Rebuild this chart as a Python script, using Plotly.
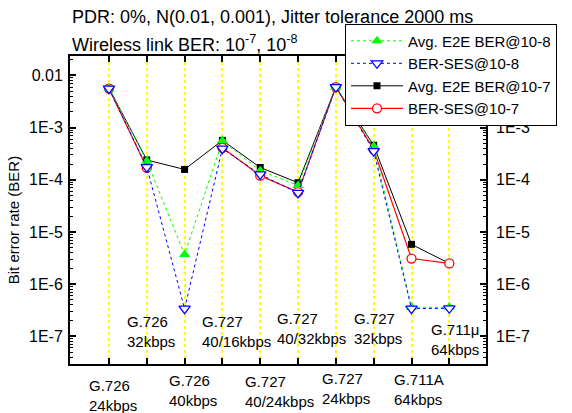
import plotly.graph_objects as go

# ---------------- data ----------------
categories = ["G.726<br>24kbps", "G.726<br>32kbps", "G.726<br>40kbps", "G.727<br>40/16kbps",
              "G.727<br>40/24kbps", "G.727<br>40/32kbps", "G.727<br>24kbps", "G.727<br>32kbps",
              "G.711A<br>64kbps", "G.711μ<br>64kbps"]
series_names = ["Avg. E2E BER@10-8", "BER-SES@10-8", "Avg. E2E BER@10-7", "BER-SES@10-7"]
avg_e2e_1e8 = [5.6e-3, 2.3e-4, 3.7e-6, 5.6e-4, 1.5e-4, 7.8e-5, 6.0e-3, 4.4e-4, 3.6e-7, 3.6e-7]
ber_ses_1e8 = [5.6e-3, 1.75e-4, 3.4e-7, 3.95e-4, 1.27e-4, 5.6e-5, 6.0e-3, 3.55e-4, 3.4e-7, 3.45e-7]
avg_e2e_1e7 = [5.7e-3, 2.4e-4, 1.58e-4, 5.7e-4, 1.72e-4, 8.8e-5, 6.0e-3, 4.6e-4, 5.8e-6, 2.5e-6]
ber_ses_1e7 = [5.6e-3, 1.7e-4, None, 4.1e-4, 1.2e-4, 5.8e-5, 6.0e-3, 3.8e-4, 3.1e-6, 2.5e-6]
y_tickvals = [1e-2, 1e-3, 1e-4, 1e-5, 1e-6, 1e-7]
y_ticktext = ["0.01", "1E-3", "1E-4", "1E-5", "1E-6", "1E-7"]
# right-hand labels (the 0.01 label sits under the legend in the original)
y2_tickvals = [1e-3, 1e-4, 1e-5, 1e-6, 1e-7]
y2_ticktext = ["1E-3", "1E-4", "1E-5", "1E-6", "1E-7"]

# ---------------- layout geometry (pixels) ----------------
W, H = 572, 413
PL, PR, PT, PB = 70, 486, 55.5, 364
Y_RANGE = [-7.53, -1.627]
X_RANGE = [-1.03, 9.97]

def py(ypx):
    return (PB - ypx) / (PB - PT)

def px(xpx):
    return (xpx - PL) / (PR - PL)

xs = list(range(len(categories)))
FONT = "Liberation Sans, Arial, sans-serif"

fig = go.Figure()
fig.add_trace(go.Scatter(x=xs, y=avg_e2e_1e7, name=series_names[2], mode="lines+markers",
                         line=dict(color="black", width=1),
                         marker=dict(symbol="square", size=7, color="black"), legendrank=3))
fig.add_trace(go.Scatter(x=xs, y=ber_ses_1e7, name=series_names[3], mode="lines+markers",
                         connectgaps=False,
                         line=dict(color="red", width=1.2),
                         marker=dict(symbol="circle", size=9, color="white",
                                     line=dict(color="red", width=1.3)), legendrank=4))
fig.add_trace(go.Scatter(x=xs, y=avg_e2e_1e8, name=series_names[0], mode="lines+markers",
                         line=dict(color="#00FF00", width=1, dash="dot"),
                         marker=dict(symbol="triangle-up", size=10, color="#00FF00"), legendrank=1))
fig.add_trace(go.Scatter(x=xs, y=ber_ses_1e8, name=series_names[1], mode="lines+markers",
                         line=dict(color="blue", width=1, dash="dot"),
                         marker=dict(symbol="triangle-down", size=10, color="white",
                                     line=dict(color="blue", width=1.3)), legendrank=2))
fig.add_trace(go.Scatter(x=[], y=[], yaxis="y2", showlegend=False, hoverinfo="skip"))

minor_vals = [k * 10.0 ** e for e in range(-8, -1) for k in range(2, 10)]

annotations = []
# category labels: even below the axis, odd inside the plot
label_dx = [-22, -22, -18, -22, -17, -23, -16, -22, -20, -20]
label_cy = [395.5, 331, 391, 331, 392, 328.5, 388.5, 328.5, 390, 339.5]
for i, lab in enumerate(categories):
    annotations.append(dict(x=i, y=py(label_cy[i]), xref="x", yref="paper", text=lab,
                            xanchor="left", yanchor="middle", align="left", xshift=label_dx[i],
                            showarrow=False, font=dict(size=15, color="black", family=FONT)))
annotations.append(dict(x=px(70), y=py(16), xref="paper", yref="paper",
                        text="PDR: 0%, N(0.01, 0.001), Jitter tolerance 2000 ms",
                        xanchor="left", yanchor="middle", showarrow=False,
                        font=dict(size=18, color="black", family=FONT)))
annotations.append(dict(x=px(70), y=py(43), xref="paper", yref="paper",
                        text="Wireless link BER: 10<sup>-7</sup>, 10<sup>-8</sup>",
                        xanchor="left", yanchor="middle", showarrow=False,
                        font=dict(size=18, color="black", family=FONT)))
annotations.append(dict(x=px(13), y=py(220), xref="paper", yref="paper",
                        text="Bit error rate (BER)", textangle=-90,
                        xanchor="center", yanchor="middle", showarrow=False,
                        font=dict(size=15, color="black", family=FONT)))

fig.update_layout(
    width=W, height=H,
    margin=dict(l=PL, r=W - PR, t=PT, b=H - PB, pad=0),
    paper_bgcolor="white", plot_bgcolor="white",
    font=dict(family=FONT, size=15, color="black"),
    showlegend=True,
    legend=dict(x=px(345), y=py(23), xanchor="left", yanchor="top",
                bgcolor="white", bordercolor="black", borderwidth=1,
                font=dict(size=15, family=FONT), itemwidth=52,
                tracegroupgap=0),
    xaxis=dict(range=X_RANGE, tickvals=xs, ticktext=[""] * len(xs), ticks="inside", ticklen=6,
               tickwidth=1.5, tickcolor="black", showline=True, linecolor="black", linewidth=2,
               mirror="ticks", showgrid=True, gridcolor="#FFFF00", griddash="3px,3px", gridwidth=1.5,
               zeroline=False),
    yaxis=dict(type="log", range=Y_RANGE, tickmode="array", tickvals=y_tickvals, ticktext=y_ticktext,
               ticks="inside", ticklen=6, tickwidth=1.5, tickcolor="black",
               showline=True, linecolor="black", linewidth=2, mirror="ticks", showgrid=False,
               zeroline=False, tickfont=dict(size=16), ticklabelstandoff=2,
               minor=dict(tickmode="array", tickvals=minor_vals, ticks="inside", ticklen=3,
                          tickcolor="black", tickwidth=1, showgrid=False)),
    yaxis2=dict(type="log", range=Y_RANGE, overlaying="y", side="right", tickmode="array",
                tickvals=y2_tickvals, ticktext=y2_ticktext, ticks="", showgrid=False,
                showline=False, zeroline=False, tickfont=dict(size=16), ticklabelstandoff=9),
    annotations=annotations,
)

fig.write_html("out.html")
